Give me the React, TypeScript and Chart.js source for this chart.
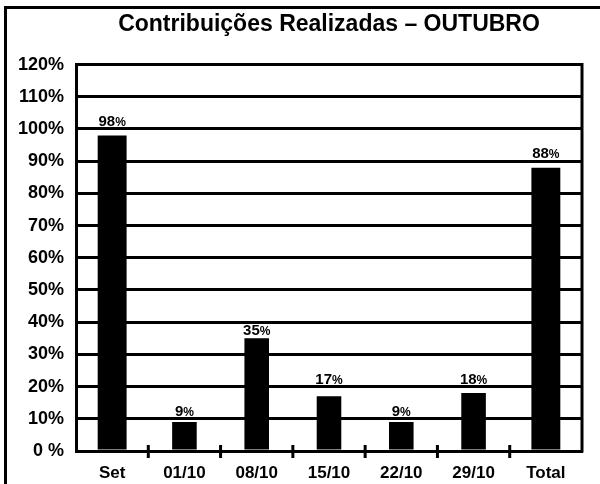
import React, { useEffect, useRef } from "react";
import { Chart, registerables } from "chart.js";

Chart.register(...registerables);

const titleText = "Contribuições Realizadas – OUTUBRO";
const categories = ["Set", "01/10", "08/10", "15/10", "22/10", "29/10", "Total"];
const values = [98, 9, 35, 17, 9, 18, 88];
const yTickLabels = ["0 %", "10%", "20%", "30%", "40%", "50%", "60%", "70%", "80%", "90%", "100%", "110%", "120%"];

const FONT = "'Liberation Sans', Arial, Helvetica, sans-serif";

const isSummary = (i: number) => i === 0 || i === values.length - 1;
const summaryValues = values.map((v, i) => (isSummary(i) ? v : null));
const weeklyValues = values.map((v, i) => (isSummary(i) ? null : v));

const decorPlugin = {
  id: "decor",
  afterDatasetsDraw(chart: any) {
    const ctx = chart.ctx;
    const ys = chart.scales.y;
    const gridPixels: number[] = ys.ticks.map((t: any) => ys.getPixelForValue(t.value));
    const capH = 11;
    ctx.save();
    ctx.fillStyle = "#000";
    ctx.textBaseline = "alphabetic";
    chart.data.datasets.forEach((ds: any, di: number) => {
      const meta = chart.getDatasetMeta(di);
      meta.data.forEach((el: any, i: number) => {
        const v = ds.data[i];
        if (v === null || v === undefined) return;
        // place label just above the bar, moving it clear of any grid line
        let y = el.y - 3;
        for (let k = 0; k < 3; k++) {
          const hit = gridPixels.find((p) => p + 2 > y - capH && p - 2 < y + 1);
          if (hit === undefined) break;
          y = hit - 3;
        }
        const num = String(v);
        ctx.font = `bold 15px ${FONT}`;
        const wNum = ctx.measureText(num).width;
        ctx.font = `bold 12px ${FONT}`;
        const wPct = ctx.measureText("%").width;
        const total = wNum + wPct;
        const x0 = el.x - total / 2;
        ctx.font = `bold 15px ${FONT}`;
        ctx.textAlign = "left";
        ctx.fillText(num, x0, y);
        ctx.font = `bold 12px ${FONT}`;
        ctx.fillText("%", x0 + wNum, y);
      });
    });
    ctx.restore();
  },
  afterDraw(chart: any) {
    const ctx = chart.ctx;
    const area = chart.chartArea;
    const xs = chart.scales.x;
    ctx.save();
    ctx.strokeStyle = "#000";
    ctx.lineWidth = 3;
    // right border of plot area
    ctx.beginPath();
    ctx.moveTo(area.right, area.top - 1.5);
    ctx.lineTo(area.right, area.bottom + 1.5);
    ctx.stroke();
    // category separator ticks crossing the axis
    for (let i = 1; i < categories.length; i++) {
      const x = (xs.getPixelForValue(i - 1) + xs.getPixelForValue(i)) / 2;
      ctx.beginPath();
      ctx.moveTo(x, area.bottom - 6);
      ctx.lineTo(x, area.bottom + 7);
      ctx.stroke();
    }
    ctx.restore();
  },
};

export default function App() {
  const canvasRef = useRef<HTMLCanvasElement | null>(null);

  useEffect(() => {
    if (!canvasRef.current) return;
    const chart = new Chart(canvasRef.current, {
      type: "bar",
      data: {
        labels: categories,
        datasets: [
          {
            label: "Resumo",
            data: summaryValues,
            backgroundColor: "#000",
            borderWidth: 0,
            grouped: false,
            barPercentage: 0.4,
            categoryPercentage: 1,
          },
          {
            label: "Semanas",
            data: weeklyValues,
            backgroundColor: "#000",
            borderWidth: 0,
            grouped: false,
            barPercentage: 0.34,
            categoryPercentage: 1,
          },
        ] as any,
      },
      options: {
        responsive: false,
        maintainAspectRatio: false,
        animation: false,
        devicePixelRatio: 1,
        layout: { padding: { left: 0, right: 18, top: 0, bottom: 0 } },
        plugins: {
          legend: { display: false },
          tooltip: { enabled: false },
          title: {
            display: true,
            text: titleText,
            fullSize: false,
            color: "#000",
            font: { family: FONT, size: 23, weight: "bold" },
            padding: { top: 11, bottom: 26 },
          },
        },
        scales: {
          x: {
            type: "category",
            grid: { display: false },
            border: { display: true, color: "#000", width: 3 },
            ticks: {
              color: "#000",
              font: { family: FONT, size: 17, weight: "bold" },
              padding: 4,
              maxRotation: 0,
              autoSkip: false,
            },
            afterFit: (scale: any) => {
              scale.height = 33;
            },
          },
          y: {
            type: "linear",
            min: 0,
            max: 120,
            grid: { color: "#000", lineWidth: 3, drawTicks: false },
            border: { display: true, color: "#000", width: 3 },
            ticks: {
              stepSize: 10,
              color: "#000",
              padding: 12,
              font: { family: FONT, size: 18, weight: "bold" },
              callback: (_v: any, i: number) => yTickLabels[i],
            },
            afterFit: (scale: any) => {
              scale.width = 76;
            },
          },
        },
      } as any,
      plugins: [decorPlugin],
    });
    return () => chart.destroy();
  }, []);

  return (
    <div
      style={{
        position: "fixed",
        left: 0,
        top: 0,
        width: 600,
        height: 484,
        overflow: "hidden",
        background: "#fff",
      }}
    >
      <div
        style={{
          position: "absolute",
          left: 4,
          top: 6,
          width: 700,
          height: 600,
          border: "3px solid #000",
        }}
      />
      <canvas
        ref={canvasRef}
        width={600}
        height={484}
        style={{ position: "absolute", left: 0, top: 0, display: "block" }}
      />
    </div>
  );
}
